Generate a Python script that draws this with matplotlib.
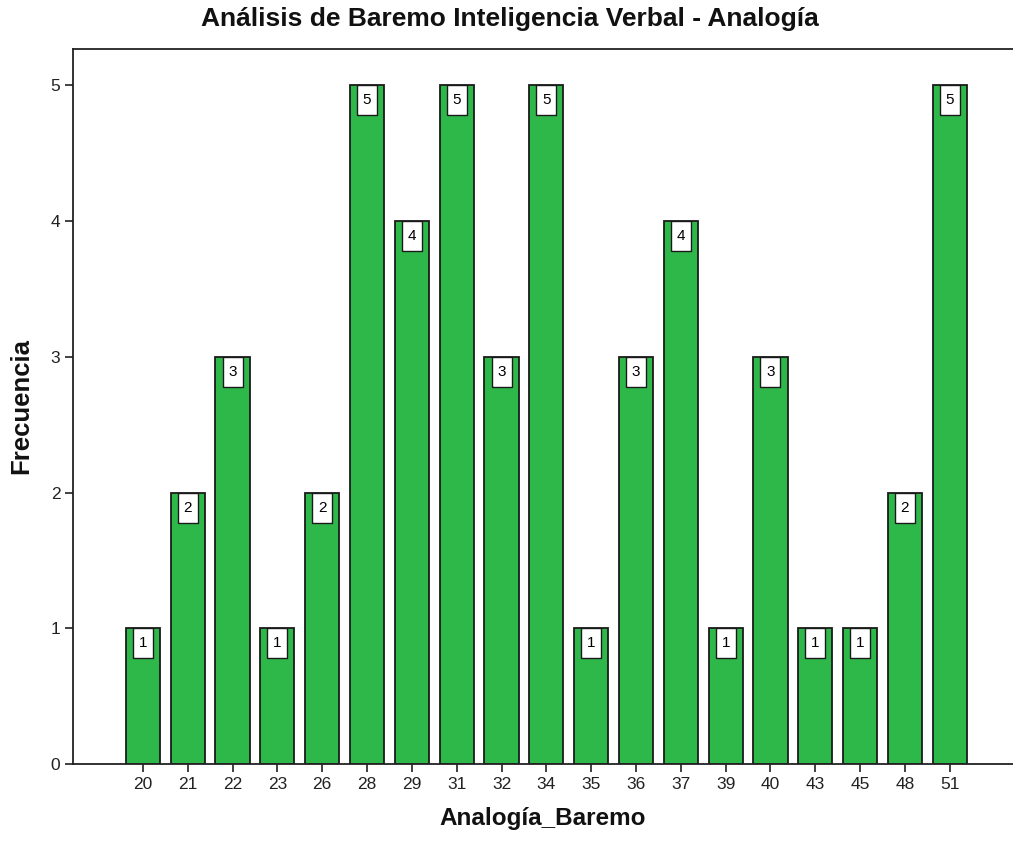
import matplotlib.pyplot as plt
from matplotlib.transforms import offset_copy

plt.rcParams['font.family'] = ['Liberation Sans', 'DejaVu Sans']

# valores del baremo y su frecuencia
categorias = ['20', '21', '22', '23', '26', '28', '29', '31', '32', '34',
              '35', '36', '37', '39', '40', '43', '45', '48', '51']
frecuencia = [1, 2, 3, 1, 2, 5, 4, 5, 3, 5, 1, 3, 4, 1, 3, 1, 1, 2, 5]

fig = plt.figure(figsize=(10.13, 8.42), dpi=100)
ax = fig.add_axes([0.072, 0.0926, 0.928, 0.8494])

pos = list(range(len(categorias)))
ax.bar(pos, frecuencia, width=0.76, color='#2eb84a', edgecolor='#1a1a1a', linewidth=1.3, zorder=2)

# etiquetas de valor dentro de la barra
trans = offset_copy(ax.transData, fig=fig, x=0, y=-15, units='dots')
caja = [(-0.317, -0.5), (0.317, -0.5), (0.317, 0.5), (-0.317, 0.5), (-0.317, -0.5)]
for x, v in zip(pos, frecuencia):
    ax.plot(x, v, marker=caja, markersize=21.6, markerfacecolor='white',
            markeredgecolor='#1a1a1a', markeredgewidth=1.0, transform=trans, zorder=3)
    ax.text(x, v, str(v), transform=trans, ha='center', va='center', fontsize=11, zorder=4)

ax.set_xlim(-1.56, 19.41)
ax.set_ylim(0, 5.27)
ax.set_xticks(pos)
ax.set_xticklabels(categorias)
ax.set_yticks(range(6))

for s in ['left', 'bottom', 'top']:
    ax.spines[s].set_linewidth(1.3)
    ax.spines[s].set_color('#222222')
ax.spines['right'].set_visible(False)
ax.tick_params(axis='both', direction='out', length=6, width=1.3, color='#333333',
               labelsize=12.5, labelcolor='#222222', pad=3)

fig.text(0.503, 0.977, 'Análisis de Baremo Inteligencia Verbal - Analogía',
         ha='center', va='center', fontsize=19, fontweight='bold', color='#111111')
fig.text(0.536, 0.0285, 'Analogía_Baremo', ha='center', va='center',
         fontsize=17.5, fontweight='bold', color='#111111')
fig.text(0.021, 0.518, 'Frecuencia', ha='center', va='center', rotation=90,
         fontsize=18.5, fontweight='bold', color='#111111')

fig.savefig('out.png', dpi=100)
